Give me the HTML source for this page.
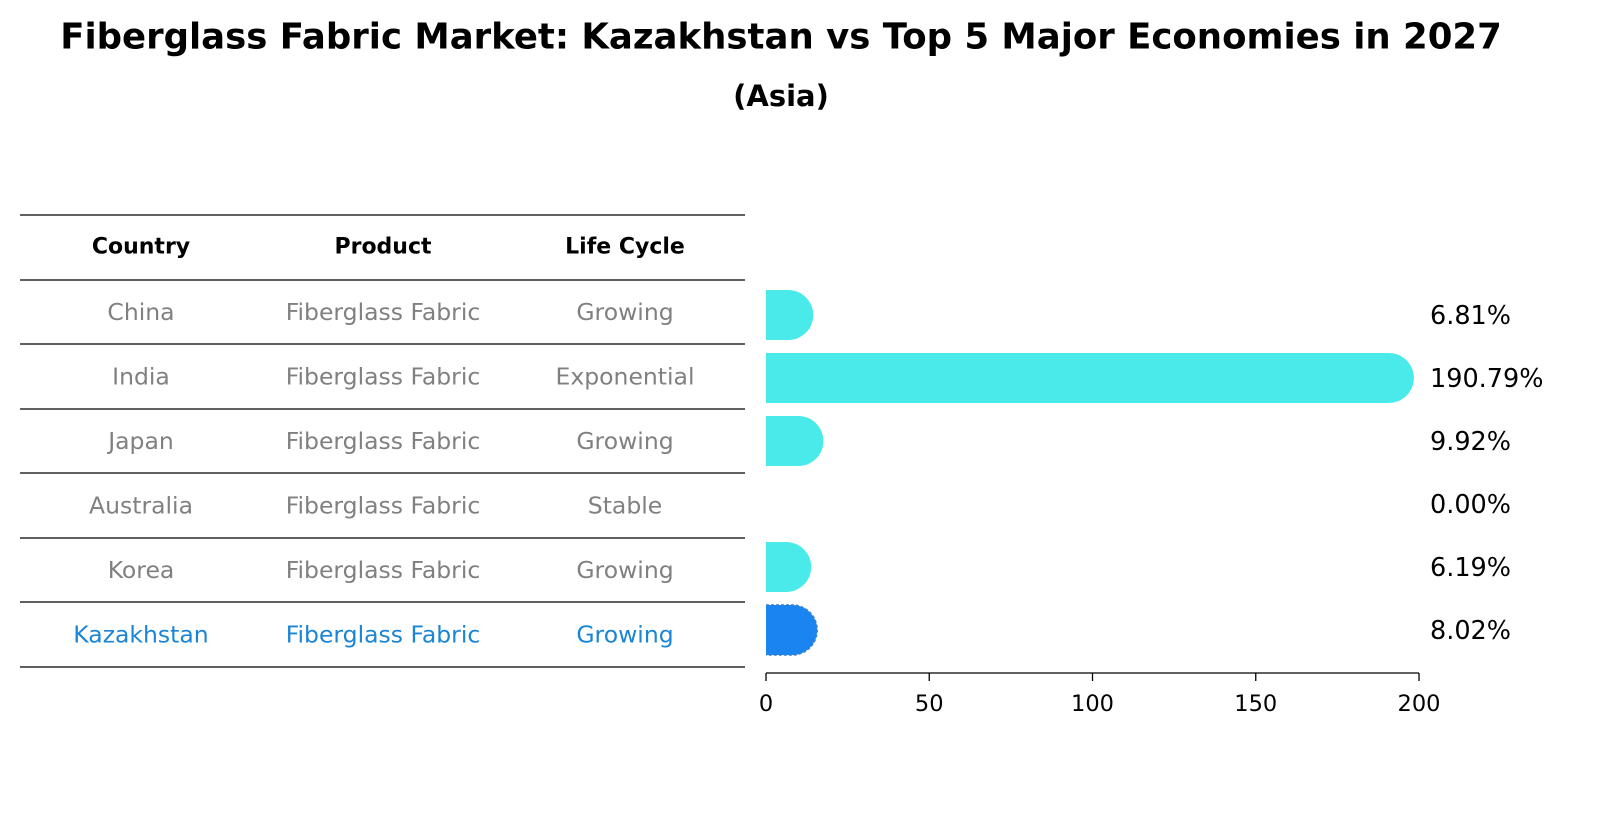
<!DOCTYPE html>
<html><head><meta charset="utf-8"><style>
body{margin:0;background:#fff;font-family:"Liberation Sans","DejaVu Sans",sans-serif;}
</style></head><body>
<svg width="1622" height="823" xmlns="http://www.w3.org/2000/svg" font-family="DejaVu Sans, Liberation Sans, sans-serif">
<text x="781" y="37" text-anchor="middle" dominant-baseline="central" font-size="35.5" font-weight="bold">Fiberglass Fabric Market: Kazakhstan vs Top 5 Major Economies in 2027</text>
<text x="781" y="96" text-anchor="middle" dominant-baseline="central" font-size="29" font-weight="bold">(Asia)</text>
<g id="table"></g>
<defs><clipPath id="clip"><rect x="766" y="200" width="900" height="500"/></clipPath></defs>
<g id="bars" clip-path="url(#clip)"></g>
<g id="axis"></g>
<g id="labels"></g>
</svg>
<script>
const countries=["China","India","Japan","Australia","Korea","Kazakhstan"];
const products=["Fiberglass Fabric","Fiberglass Fabric","Fiberglass Fabric","Fiberglass Fabric","Fiberglass Fabric","Fiberglass Fabric"];
const cycles=["Growing","Exponential","Growing","Stable","Growing","Growing"];
const values=[6.81,190.79,9.92,0.00,6.19,8.02];
const ticks=[0,50,100,150,200];
const NS="http://www.w3.org/2000/svg";
function mk(t,a,p){const e=document.createElementNS(NS,t);for(const k in a)e.setAttribute(k,a[k]);p.appendChild(e);return e;}
const x=v=>766+v*(1419-766)/200;
const rowY=i=>315+i*63;
const tb=document.getElementById('table');
const lineYs=[215,280,344,409,473,538,602,667];
lineYs.forEach(y=>{const l=mk('line',{x1:20,x2:745,y1:y,y2:y,stroke:'#000','stroke-width':1.2},tb);

});
const cx=[141,383,625];
["Country","Product","Life Cycle"].forEach((h,j)=>{const t=mk('text',{x:cx[j],y:247,'text-anchor':'middle','dominant-baseline':'central','font-size':22,'font-weight':'bold'},tb);t.textContent=h;

});
countries.forEach((c,i)=>{const y=(lineYs[i+1]+lineYs[i+2])/2;const col=c==="Kazakhstan"?'#1a85d6':'#808080';
[c,products[i],cycles[i]].forEach((s,j)=>{const t=mk('text',{x:cx[j],y:y,'text-anchor':'middle','dominant-baseline':'central','font-size':23.5,fill:col},tb);t.textContent=s;

});});
const bg=document.getElementById('bars'),lg=document.getElementById('labels');
values.forEach((v,i)=>{const y=rowY(i);const hl=countries[i]==="Kazakhstan";const col=hl?'#1a85f0':'#4aeaea';
if(v>0){const p=mk('path',{d:`M${x(0)-25},${y-25} H${x(v)} A25,25 0 0 1 ${x(v)},${y+25} H${x(0)-25} Z`,fill:col},bg);
if(hl){p.setAttribute('stroke','#3a7fd0');p.setAttribute('stroke-dasharray','3,2');p.setAttribute('stroke-width','1.5');}

}
const t=mk('text',{x:1430,y:y+1,'dominant-baseline':'central','font-size':25.5},lg);t.textContent=v.toFixed(2)+'%';

});
const ax=document.getElementById('axis');
mk('line',{x1:766,x2:1419,y1:673,y2:673,stroke:'#000','stroke-width':1.3},ax);
ticks.forEach(tk=>{mk('line',{x1:x(tk),x2:x(tk),y1:673,y2:681,stroke:'#000','stroke-width':1.3},ax);
const t=mk('text',{x:x(tk),y:704,'text-anchor':'middle','dominant-baseline':'central','font-size':22.5},ax);t.textContent=tk;

});
</script>
</body></html>
